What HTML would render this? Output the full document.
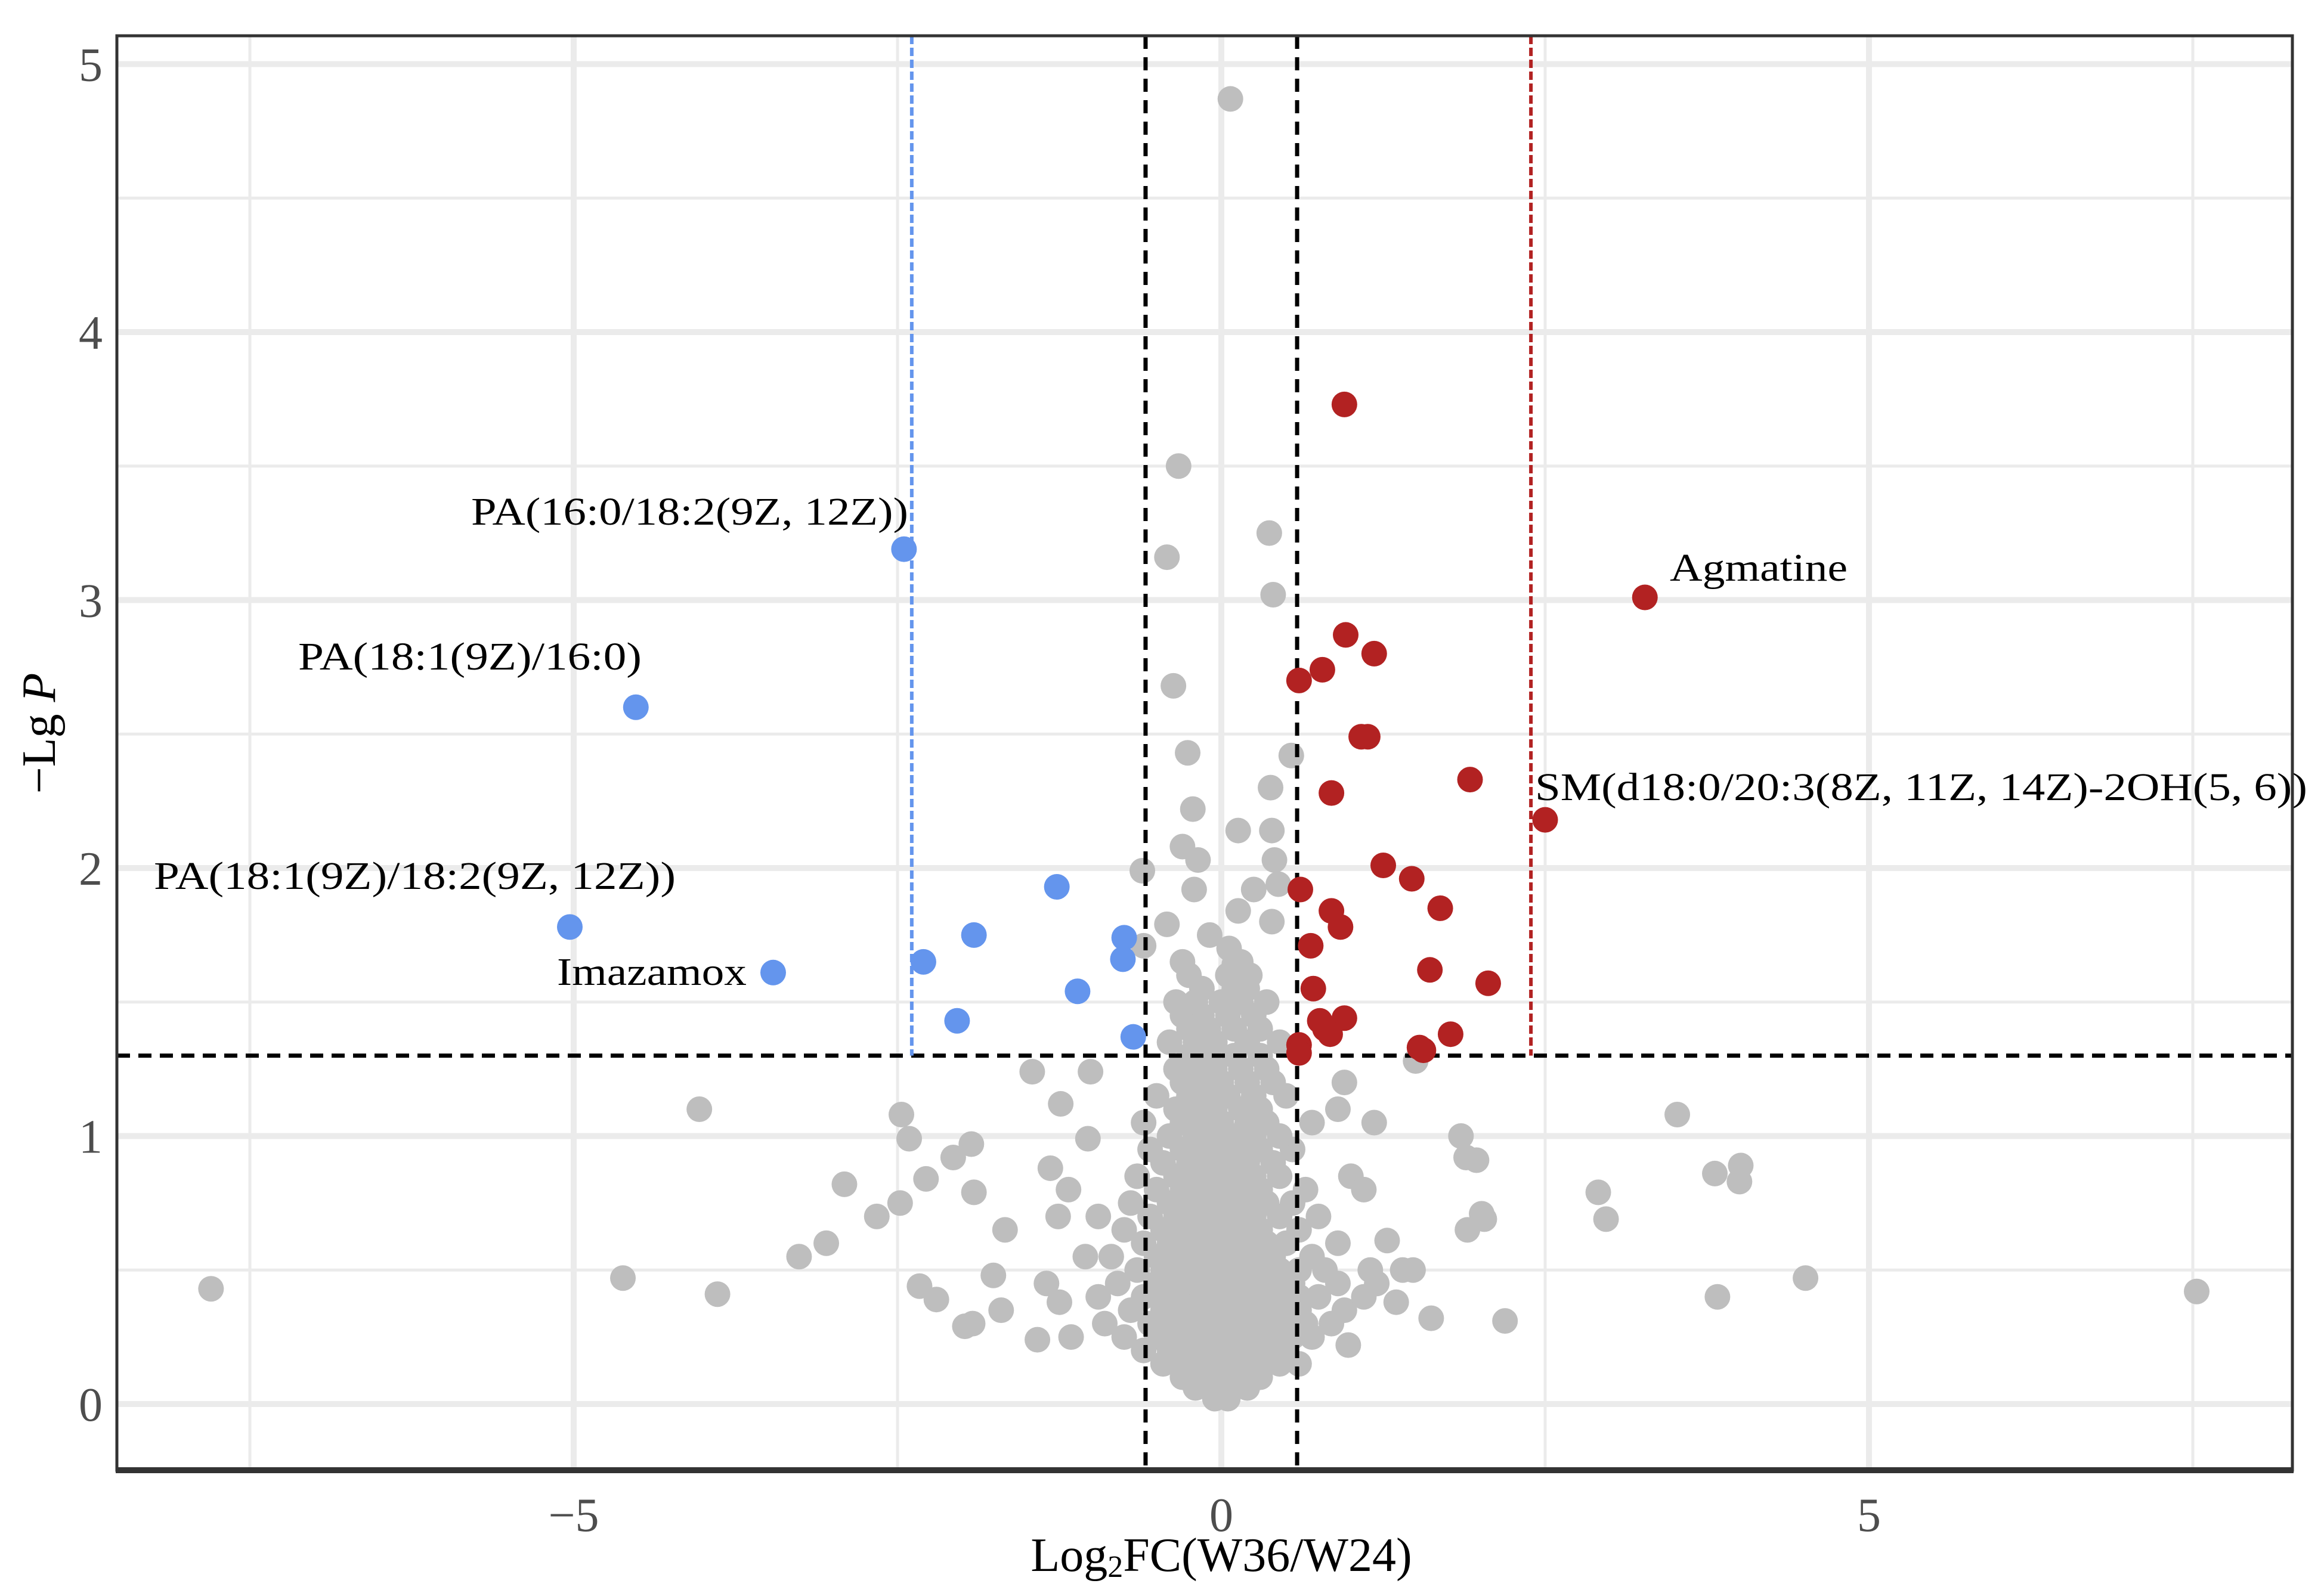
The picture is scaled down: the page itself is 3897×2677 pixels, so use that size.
<!DOCTYPE html>
<html><head><meta charset="utf-8"><style>html,body{margin:0;padding:0;background:#fff}svg{display:block}</style></head>
<body>
<svg id="chart" width="3897" height="2677" viewBox="0 0 3897 2677" xmlns="http://www.w3.org/2000/svg" font-family="'Liberation Serif', serif">
<g id="grid"></g>
<g id="thresholds"></g>
<g id="points"></g>
<g id="labels"></g>
<g id="axes"></g>
</svg>
<script>
const xTicks = [-5, 0, 5];
const yTicks = [0, 1, 2, 3, 4, 5];
const xThresholds = [-0.585, 0.585];
const yThreshold = 1.3;
const blueLine = -2.39;
const redLine = 2.39;
const bluePoints = [[-2.45,3.19],[-4.52,2.60],[-5.03,1.78],[-3.46,1.61],[-1.27,1.93],[-2.30,1.65],[-1.91,1.75],[-2.04,1.43],[-1.11,1.54],[-0.75,1.74],[-0.76,1.66],[-0.68,1.37]];
const redPoints = [[0.95,3.73],[3.27,3.01],[0.96,2.87],[1.18,2.80],[0.78,2.74],[0.60,2.70],[1.08,2.49],[1.13,2.49],[1.92,2.33],[0.85,2.28],[2.50,2.18],[1.25,2.01],[1.47,1.96],[0.61,1.92],[1.69,1.85],[0.85,1.84],[0.92,1.78],[0.69,1.71],[1.61,1.62],[2.06,1.57],[0.71,1.55],[0.95,1.44],[0.76,1.43],[0.80,1.40],[0.84,1.38],[1.77,1.38],[1.53,1.33],[1.56,1.32],[0.60,1.34],[0.60,1.31]];
const grayOutliers = [[0.07,4.87],[-0.33,3.50],[0.37,3.25],[-0.42,3.16],[0.40,3.02],[-0.37,2.68],[-0.26,2.43],[0.54,2.42],[0.38,2.30],[-0.22,2.22],[0.13,2.14],[0.39,2.14],[-0.30,2.08],[-0.18,2.03],[0.41,2.03],[-0.61,1.99],[-0.21,1.92],[0.25,1.92],[0.44,1.94],[0.13,1.84],[0.39,1.80],[-0.42,1.79],[-0.09,1.75],[-0.60,1.71],[0.06,1.70],[0.10,1.64],[0.22,1.60],[0.14,1.59],
[-7.80,0.43],[7.53,0.42],[-4.03,1.10],[-4.62,0.47],[-3.89,0.41],[-3.26,0.55],[-3.05,0.60],[-2.91,0.82],[-2.66,0.70],[-2.48,0.75],[-2.47,1.08],[-2.41,0.99],[-2.33,0.44],[-2.28,0.84],[-2.20,0.39],[-2.07,0.92],[-1.93,0.97],[-1.91,0.79],[-1.98,0.29],[-1.92,0.30],[-1.70,0.35],[-1.76,0.48],[-1.67,0.65],[-1.46,1.24],[-1.42,0.24],[-1.32,0.88],[-1.24,1.12],[-1.26,0.70],[-1.18,0.80],[-1.16,0.25],[-1.01,1.24],[-1.03,0.99],
[3.52,1.08],[2.91,0.79],[2.97,0.69],[3.81,0.86],[4.01,0.89],[4.00,0.83],[4.51,0.47],[3.83,0.40],[2.19,0.31],[1.85,1.00],[1.89,0.92],[1.97,0.91],[2.01,0.71],[2.03,0.69],[1.90,0.65],[1.50,1.28],[1.62,0.32],[1.28,0.61],[1.18,1.05],[0.98,0.22],[1.40,0.50],[1.48,0.50],[1.35,0.38],[1.20,0.45],[1.10,0.80],[-1.05,0.55],[-1.35,0.45],[-1.25,0.38],[-0.95,0.70]];
const grayCluster = [
[-0.05,0.02],[0.05,0.02],
[-0.2,0.06],[-0.1,0.06],[0,0.06],[0.1,0.06],[0.2,0.06],
[-0.3,0.1],[-0.15,0.1],[0,0.1],[0.15,0.1],[0.3,0.1],
[-0.45,0.15],[-0.3,0.15],[-0.15,0.15],[0,0.15],[0.15,0.15],[0.3,0.15],[0.45,0.15],[0.6,0.15],
[-0.6,0.2],[-0.4,0.2],[-0.25,0.2],[-0.1,0.2],[0.05,0.2],[0.2,0.2],[0.35,0.2],[0.5,0.2],
[-0.75,0.25],[-0.5,0.25],[-0.35,0.25],[-0.2,0.25],[-0.05,0.25],[0.1,0.25],[0.25,0.25],[0.4,0.25],[0.55,0.25],[0.7,0.25],
[-0.9,0.3],[-0.55,0.3],[-0.4,0.3],[-0.25,0.3],[-0.1,0.3],[0.05,0.3],[0.2,0.3],[0.35,0.3],[0.5,0.3],[0.65,0.3],[0.85,0.3],
[-0.7,0.35],[-0.45,0.35],[-0.3,0.35],[-0.15,0.35],[0,0.35],[0.15,0.35],[0.3,0.35],[0.45,0.35],[0.6,0.35],[0.95,0.35],
[-0.95,0.4],[-0.6,0.4],[-0.45,0.4],[-0.3,0.4],[-0.15,0.4],[0,0.4],[0.15,0.4],[0.3,0.4],[0.45,0.4],[0.6,0.4],[0.75,0.4],[1.1,0.4],
[-0.8,0.45],[-0.5,0.45],[-0.35,0.45],[-0.2,0.45],[-0.05,0.45],[0.1,0.45],[0.25,0.45],[0.4,0.45],[0.55,0.45],[0.9,0.45],
[-0.65,0.5],[-0.45,0.5],[-0.3,0.5],[-0.15,0.5],[0,0.5],[0.15,0.5],[0.3,0.5],[0.45,0.5],[0.6,0.5],[0.8,0.5],[1.15,0.5],
[-0.85,0.55],[-0.5,0.55],[-0.35,0.55],[-0.2,0.55],[-0.05,0.55],[0.1,0.55],[0.25,0.55],[0.4,0.55],[0.7,0.55],
[-0.6,0.6],[-0.4,0.6],[-0.25,0.6],[-0.1,0.6],[0.05,0.6],[0.2,0.6],[0.35,0.6],[0.5,0.6],[0.9,0.6],
[-0.75,0.65],[-0.45,0.65],[-0.3,0.65],[-0.15,0.65],[0,0.65],[0.15,0.65],[0.3,0.65],[0.6,0.65],
[-0.55,0.7],[-0.35,0.7],[-0.2,0.7],[-0.05,0.7],[0.1,0.7],[0.25,0.7],[0.45,0.7],[0.75,0.7],
[-0.7,0.75],[-0.4,0.75],[-0.25,0.75],[-0.1,0.75],[0.05,0.75],[0.2,0.75],[0.35,0.75],[0.55,0.75],
[-0.5,0.8],[-0.3,0.8],[-0.15,0.8],[0,0.8],[0.15,0.8],[0.3,0.8],[0.65,0.8],
[-0.65,0.85],[-0.35,0.85],[-0.2,0.85],[-0.05,0.85],[0.1,0.85],[0.25,0.85],[0.45,0.85],[1.0,0.85],
[-0.45,0.9],[-0.25,0.9],[-0.1,0.9],[0.05,0.9],[0.2,0.9],[0.4,0.9],
[-0.55,0.95],[-0.3,0.95],[-0.15,0.95],[0,0.95],[0.15,0.95],[0.3,0.95],[0.55,0.95],
[-0.4,1.0],[-0.2,1.0],[-0.05,1.0],[0.1,1.0],[0.25,1.0],[0.45,1.0],
[-0.6,1.05],[-0.3,1.05],[-0.15,1.05],[0,1.05],[0.2,1.05],[0.35,1.05],[0.7,1.05],
[-0.35,1.1],[-0.2,1.1],[-0.05,1.1],[0.15,1.1],[0.3,1.1],[0.9,1.1],
[-0.5,1.15],[-0.25,1.15],[-0.1,1.15],[0.05,1.15],[0.25,1.15],[0.5,1.15],
[-0.3,1.2],[-0.15,1.2],[0,1.2],[0.2,1.2],[0.4,1.2],[0.95,1.2],
[-0.35,1.25],[-0.2,1.25],[-0.05,1.25],[0.15,1.25],[0.35,1.25],
[-0.25,1.3],[-0.1,1.3],[0.1,1.3],[0.3,1.3],
[-0.4,1.35],[-0.2,1.35],[-0.05,1.35],[0.2,1.35],[0.45,1.35],
[-0.25,1.4],[-0.1,1.4],[0.1,1.4],[0.3,1.4],
[-0.3,1.45],[-0.15,1.45],[0.05,1.45],[0.25,1.45],
[-0.35,1.5],[-0.2,1.5],[0,1.5],[0.15,1.5],[0.35,1.5],
[-0.15,1.55],[0.1,1.55],[0.2,1.55],
[-0.25,1.6],[0.05,1.6],
[-0.3,1.65],[0.15,1.65]];
const pointLabels = [
 {t:"PA(16:0/18:2(9Z, 12Z))", x:790, y:880, w:733},
 {t:"PA(18:1(9Z)/16:0)", x:500, y:1123, w:576},
 {t:"PA(18:1(9Z)/18:2(9Z, 12Z))", x:258, y:1491, w:875},
 {t:"Imazamox", x:934, y:1652, w:318},
 {t:"Agmatine", x:2800, y:974, w:298},
 {t:"SM(d18:0/20:3(8Z, 11Z, 14Z)-2OH(5, 6))", x:2574, y:1342, w:1295}
];

const NS = "http://www.w3.org/2000/svg";
const L = 196, R = 3844, T = 60, B = 2466;
const X0 = 2048, XU = 217.2, Y0 = 2355, YU = 449.5;
const sx = v => X0 + v * XU;
const sy = v => Y0 - v * YU;
function mk(tag, attrs, parent) {
  const e = document.createElementNS(NS, tag);
  for (const k in attrs) e.setAttribute(k, attrs[k]);
  parent.appendChild(e);
  return e;
}
const grid = document.getElementById('grid');
mk('rect', {x:L, y:T, width:R-L, height:B-T, fill:'#fff'}, grid);
[-7.5,-2.5,2.5,7.5].forEach(v => {
  const e = mk('line', {x1:sx(v), x2:sx(v), y1:T, y2:B, stroke:'#ebebeb', 'stroke-width':5}, grid);
  
  
});
[0.5,1.5,2.5,3.5,4.5].forEach(v => {
  const e = mk('line', {x1:L, x2:R, y1:sy(v), y2:sy(v), stroke:'#ebebeb', 'stroke-width':5}, grid);
  
  
});
xTicks.forEach(v => {
  const e = mk('line', {x1:sx(v), x2:sx(v), y1:T, y2:B, stroke:'#ebebeb', 'stroke-width':10}, grid);
  
  
});
yTicks.forEach(v => {
  const e = mk('line', {x1:L, x2:R, y1:sy(v), y2:sy(v), stroke:'#ebebeb', 'stroke-width':10}, grid);
  
  
});

const pts = document.getElementById('points');
function dot(p, color, name, parent) {
  const c = mk('circle', {cx:sx(p[0]), cy:sy(p[1]), r:21.5, fill:color}, parent);
  
  
}
grayCluster.forEach(p => dot(p, '#bebebe', 'nonsignificant-point', pts));
grayOutliers.forEach(p => dot(p, '#bebebe', 'nonsignificant-point', pts));

const th = document.getElementById('thresholds');
const svg = document.getElementById('chart');
svg.appendChild(pts);
svg.appendChild(th);
xThresholds.forEach(v => {
  const e = mk('line', {x1:sx(v), x2:sx(v), y1:T, y2:B, stroke:'#000', 'stroke-width':7, 'stroke-dasharray':'22 14'}, th);
  
  
});
{
  const e = mk('line', {x1:L, x2:R, y1:sy(yThreshold), y2:sy(yThreshold), stroke:'#000', 'stroke-width':7, 'stroke-dasharray':'22 14'}, th);
  
  
  const b = mk('line', {x1:sx(blueLine), x2:sx(blueLine), y1:T, y2:sy(yThreshold), stroke:'#6495ed', 'stroke-width':6, 'stroke-dasharray':'14 6'}, th);
  
  
  const r = mk('line', {x1:sx(redLine), x2:sx(redLine), y1:T, y2:sy(yThreshold), stroke:'#b22222', 'stroke-width':6, 'stroke-dasharray':'14 6'}, th);
  
  
}
const lab = document.getElementById('labels');
svg.appendChild(lab);
bluePoints.forEach(p => dot(p, '#6495ed', 'down-regulated-point', lab));
redPoints.forEach(p => dot(p, '#b22222', 'up-regulated-point', lab));

pointLabels.forEach(l => {
  const t = mk('text', {x:l.x, y:l.y, 'font-size':66, fill:'#000', textLength:l.w, lengthAdjust:'spacingAndGlyphs'}, lab);
  t.textContent = l.t;
  
  
});

const ax = document.getElementById('axes');
svg.appendChild(ax);
{
  const f = mk('rect', {x:L, y:T, width:R-L, height:B-T, fill:'none', stroke:'#333', 'stroke-width':5}, ax);
  
  
  const bl = mk('line', {x1:L-2, x2:R+2, y1:B, y2:B, stroke:'#333', 'stroke-width':10}, ax);
  
  
}
xTicks.forEach(v => {
  const t = mk('text', {x:sx(v), y:2568, 'font-size':80, fill:'#4d4d4d', 'text-anchor':'middle'}, ax);
  t.textContent = v < 0 ? '\u2212' + Math.abs(v) : String(v);
  
  
});
yTicks.forEach(v => {
  const t = mk('text', {x:172, y:sy(v)+28, 'font-size':80, fill:'#4d4d4d', 'text-anchor':'end'}, ax);
  t.textContent = String(v);
  
  
});
{
  const t = mk('text', {x:2048, y:2635, 'font-size':80, fill:'#000', 'text-anchor':'middle'}, ax);
  t.innerHTML = 'Log<tspan font-size="52" dy="10">2</tspan><tspan dy="-10">FC(W36/W24)</tspan>';
  
  
  const y = mk('text', {x:0, y:0, 'font-size':80, fill:'#000', 'text-anchor':'middle', transform:'translate(92,1230) rotate(-90)'}, ax);
  y.innerHTML = '\u2212Lg <tspan font-style="italic">P</tspan>';
  
  
}
</script>
</body></html>
